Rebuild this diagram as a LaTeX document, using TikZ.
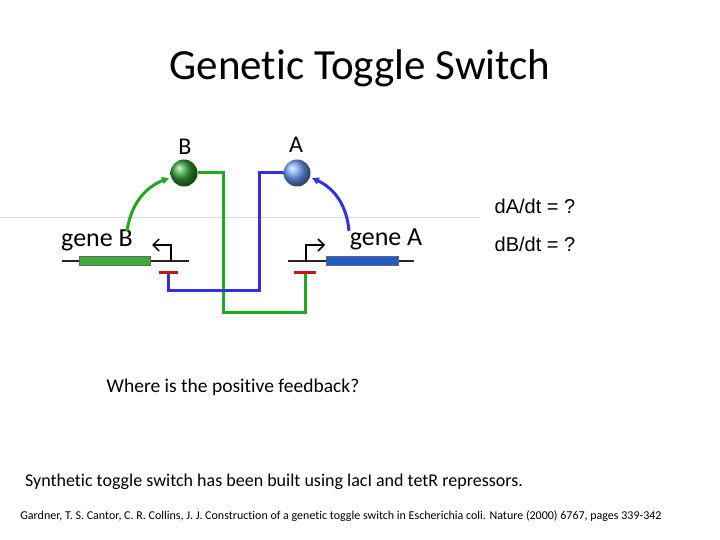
\documentclass[tikz,border=0pt]{standalone}
\usepackage{fontspec}
\setmainfont{Carlito}[Ligatures=NoCommon]
\newfontfamily\arialf{Liberation Sans}
\usetikzlibrary{arrows.meta}
\definecolor{gfill}{RGB}{60,170,60}
\definecolor{bfill}{RGB}{30,90,200}
\definecolor{bline}{RGB}{50,50,220}
\definecolor{gline}{RGB}{30,170,30}
\definecolor{rbar}{RGB}{200,20,20}
\definecolor{aball}{RGB}{110,160,250}
\definecolor{bball}{RGB}{50,160,50}
\begin{document}
\begin{tikzpicture}[x=1pt,y=-1pt,
    wire/.style={line width=3pt},
    dna/.style={line width=2.2pt,black!85},
    gbox/.style={rectangle,draw=black!60,minimum height=9pt,inner sep=0pt},
    ball/.style={circle,minimum size=27pt,inner sep=0pt},
    repress/.style={line width=3pt,rbar},
    act/.style={line width=3pt,-{Triangle[length=7pt,width=7pt,fill=orange!80!red]}}]
    \useasboundingbox (0,0) rectangle (720,540);
    \draw[black!15,line width=0.5pt] (0,217) -- (480,217);

    \node[font=\fontsize{43}{46}\selectfont] (title) at (360,68) {Genetic Toggle Switch};

    % proteins
    \node[ball,ball color=bball] (B) at (184,173) {};
    \node[ball,ball color=aball] (A) at (297,173) {};
    \node[font=\fontsize{24}{26}\selectfont] (lB) at (185,147) {B};
    \node[font=\fontsize{24}{26}\selectfont] (lA) at (296,145) {A};

    % genes
    \draw[dna] (62,261) coordinate (b0) -- (189,261) coordinate (b1);
    \draw[dna] (288,261) coordinate (a0) -- (414,261) coordinate (a1);
    \node[gbox,fill=gfill,minimum width=71pt] (geneB) at (114.5,261) {};
    \node[gbox,fill=bfill,minimum width=72pt] (geneA) at (362,261) {};
    \draw[line width=1.5pt,-{Straight Barb[length=6pt]}] (171,261) -- (171,245) -- (152,245);
    \draw[line width=1.5pt,-{Straight Barb[length=6pt]}] (306,261) -- (306,245) -- (325,245);
    \node[font=\fontsize{26}{28}\selectfont] (tB) at (97,240) {gene B};
    \node[font=\fontsize{26}{28}\selectfont] (tA) at (386,239) {gene A};

    % repression
    \coordinate (rB) at (168,272);
    \coordinate (rA) at (305,272);
    \draw[wire,gline] (B.east) -| (223,312) -| (rA);
    \draw[wire,bline] (A.west) -| (259,290) -| (rB);
    \draw[repress] (159,272) -- (178,272);
    \draw[repress] (294,272) -- (316,272);

    % expression
    \coordinate (sB) at (127,231);
    \coordinate (sA) at (349,231);
    \draw[act,gline] (sB) to[bend left=30] (169,178);
    \draw[act,bline] (sA) to[bend right=30] (312,178);

    % text
    \node[font=\arialf\fontsize{20}{22}\selectfont] (eqA) at (535,206) {dA/dt = ?};
    \node[font=\arialf\fontsize{20}{22}\selectfont] (eqB) at (535,244) {dB/dt = ?};
    \node[font=\fontsize{19.5}{22}\selectfont] (q) at (233,387) {Where is the positive feedback?};
    \node[font=\fontsize{18}{20}\selectfont] (syn) at (274,482) {Synthetic toggle switch has been built using lacI and tetR repressors.};
    \node[font=\fontsize{12}{14}\selectfont] (ref) at (341,516) {Gardner, T. S. Cantor, C. R. Collins, J. J. Construction of a genetic toggle switch in Escherichia coli. Nature (2000) 6767, pages 339-342};
\end{tikzpicture}
\end{document}
